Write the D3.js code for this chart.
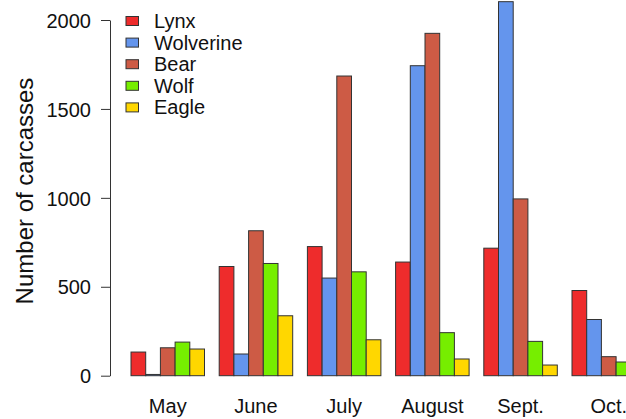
<!DOCTYPE html>
<html><head><meta charset="utf-8">
<script src="https://cdn.jsdelivr.net/npm/d3@7"></script>
<style>body{margin:0;background:#fff}svg{display:block;font-family:"Liberation Sans",Arial,sans-serif}</style>
</head><body><svg id="c" width="626" height="419"></svg>
<script>
const months = ["May","June","July","August","Sept.","Oct."];
const series = ["Lynx","Wolverine","Bear","Wolf","Eagle"];
const colors = ["#EE2C2C","#6495ED","#CD5B45","#76EE00","#FFD700"];
const lynx      = [133, 614, 726, 639, 717, 479];
const wolverine = [7, 122, 549, 1743, 2103, 316];
const bear      = [157, 815, 1685, 1925, 994, 107];
const wolf      = [189, 631, 584, 242, 193, 77];
const eagle     = [150, 337, 202, 94, 60, 30];
const yTicks = [0, 500, 1000, 1500, 2000];

const values = [lynx, wolverine, bear, wolf, eagle];
const svg = d3.select("#c");
const y = d3.scaleLinear().domain([0, 2000]).range([375.7, 20]);
const x0 = d3.scaleBand().domain(months).range([116.3, 116.3 + 6 * 88.2])
  .paddingInner(1/6).paddingOuter(1/12).align(1);
const x1 = d3.scaleBand().domain(series).range([0, x0.bandwidth()]).padding(0);

const g = svg.append("g");
months.forEach((m, i) => {
  series.forEach((s, j) => {
    const v = values[j][i];
    g.append("rect")
      .attr("x", x0(m) + x1(s))
      .attr("y", y(v))
      .attr("width", x1.bandwidth())
      .attr("height", y(0) - y(v))
      .attr("fill", colors[j])
      .attr("stroke", "#333")
      .attr("stroke-width", 1);
  });
  svg.append("text").attr("x", x0(m) + x0.bandwidth() / 2).attr("y", 413)
    .attr("text-anchor", "middle").attr("font-size", 20).attr("fill", "#111").text(m);
});

const ax = svg.append("g").attr("transform", "translate(110,0)")
  .call(d3.axisLeft(y).tickValues(yTicks).tickFormat(d3.format("d"))
    .tickSize(9).tickSizeOuter(0).tickPadding(10));
ax.attr("font-size", null).attr("font-family", null);
ax.selectAll("path,line").attr("stroke", "#333");
ax.selectAll("text").attr("font-size", 20).attr("fill", "#111").attr("dy", "0.36em");

svg.append("text").attr("transform", "translate(33,191) rotate(-90)")
  .attr("text-anchor", "middle").attr("font-size", 24).attr("fill", "#111")
  .text("Number of carcasses");

const leg = svg.append("g");
series.forEach((s, j) => {
  const cy = 21 + j * 21.6;
  leg.append("rect").attr("x", 126).attr("y", cy - 4.5).attr("width", 12.5).attr("height", 9)
    .attr("fill", colors[j]).attr("stroke", "#333").attr("stroke-width", 1);
  leg.append("text").attr("x", 154).attr("y", cy + 7).attr("font-size", 20).attr("fill", "#111").text(s);
});
</script></body></html>
